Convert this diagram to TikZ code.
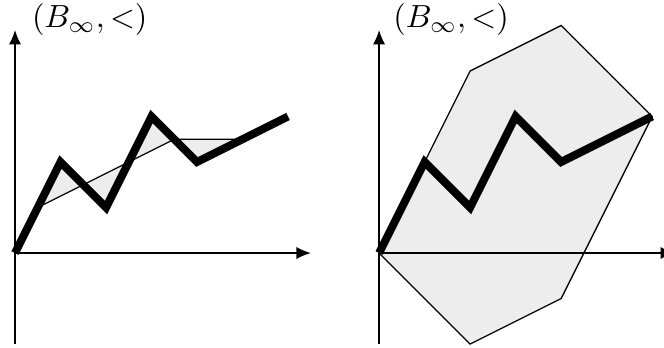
\documentclass[tikz,border=0pt]{standalone}
\usetikzlibrary{arrows.meta}
\definecolor{lightfill}{gray}{0.93}
\begin{document}
\begin{tikzpicture}[x=0.5cm,y=0.5cm,
  axis/.style={line width=0.4pt,-{Latex[length=4.5pt,width=3.8pt]}},
  thinline/.style={line width=0.4pt},
  walk/.style={line width=2.5pt,line join=miter},
  lbl/.style={anchor=base west,inner sep=0pt}]
\useasboundingbox (-0.33,-2.066) rectangle (14.26,5.56);
% ---- left picture ----
\begin{scope}
  \coordinate (O) at (0,0);
  \fill[lightfill] (0.5,1) -- (1,2) -- (2,1) -- (3,3) -- (4,2) -- (5,2.5) -- (3.5,2.5) -- cycle;
  \draw[axis] (0,-2) -- (0,4.9);
  \draw[axis] (O) -- (6.5,0);
  \draw[thinline] (0.5,1) -- (3.5,2.5) -- (5,2.5);
  \draw[walk] (O) -- (1,2) -- (2,1) -- (3,3) -- (4,2) -- (6,3);
  \node[lbl] (L1) at (0.36,4.95) {$(B_\infty,<)$};
\end{scope}
% ---- right picture ----
\begin{scope}[xshift=4cm]
  \coordinate (P) at (0,0);
  \filldraw[fill=lightfill,draw=black,thinline] (P) -- (2,4) -- (4,5) -- (6,3) -- (4,-1) -- (2,-2) -- cycle;
  \draw[axis] (0,-2) -- (0,4.9);
  \draw[axis] (P) -- (6.5,0);
  \draw[walk] (P) -- (1,2) -- (2,1) -- (3,3) -- (4,2) -- (6,3);
  \node[lbl] (L2) at (0.3,4.95) {$(B_\infty,<)$};
\end{scope}
\end{tikzpicture}
\end{document}
